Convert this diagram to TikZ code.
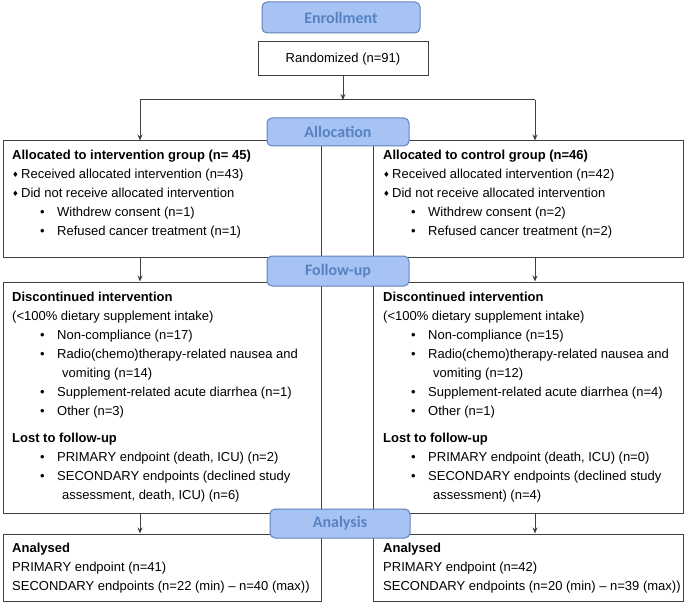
\documentclass[tikz,border=0pt]{standalone}
\usepackage{fontspec}
\setmainfont{Liberation Sans}
\newfontfamily\stagefont{Carlito}
\newfontfamily\diamfont{DejaVu Sans}
\usetikzlibrary{arrows.meta}

\definecolor{stageFill}{HTML}{A6C3F4}
\definecolor{stageLine}{HTML}{6282B8}
\definecolor{stageText}{HTML}{5682C2}
\definecolor{boxLine}{HTML}{404040}

\newcommand{\diamitem}{\makebox[9pt][l]{\raisebox{1.2pt}{\diamfont\fontsize{7.5}{7.5}\selectfont ♦}}}
\newcommand{\dotitem}{\hspace*{28pt}\makebox[17pt][l]{\textbullet}}
\newcommand{\contitem}{\hspace*{50pt}}

\begin{document}
\begin{tikzpicture}
[x=1pt,y=-1pt,
  boxDecorate/.style={shape=rectangle,draw=boxLine,line width=1pt,fill=white,inner sep=0pt},
  stageDecorate/.style={shape=rectangle,rounded corners=5pt,draw=stageLine,line width=1pt,
    fill=stageFill,text=stageText,font=\stagefont\bfseries\fontsize{16}{16}\selectfont},
  textDecorate/.style={anchor=north west,align=left,inner sep=0pt,
    font=\fontsize{13}{19}\selectfont},
  lineDecorate/.style={-,draw=boxLine,line width=1pt},
  arrowDecorate/.style={-{Stealth[length=6pt,width=5pt]},draw=boxLine,line width=1pt}]
\useasboundingbox (0,0) rectangle (685,604);
%% boxes
\node (random) at (343,59) [boxDecorate,minimum width=170pt,minimum height=34pt,
  font=\fontsize{13}{13}\selectfont] {Randomized (n=91)};
\foreach \boxname/\x/\y/\w/\h in {
  allocL/162/199/318/116,
  allocR/528/199/310/116,
  followL/162/397.5/318/231,
  followR/528/397.5/310/231,
  analysisL/162/567.5/318/67,
  analysisR/528/567.5/310/67}
{
  \node (\boxname) at (\x,\y) [boxDecorate,minimum width=\w pt,minimum height=\h pt] {};
}
%% texts
\node (allocLtext) at (12,150) [textDecorate] {\textbf{Allocated to intervention group (n= 45)}\\
  \diamitem Received allocated intervention (n=43)\\
  \diamitem Did not receive allocated intervention\\
  \dotitem Withdrew consent (n=1)\\
  \dotitem Refused cancer treatment (n=1)};
\node (allocRtext) at (383,150) [textDecorate] {\textbf{Allocated to control group (n=46)}\\
  \diamitem Received allocated intervention (n=42)\\
  \diamitem Did not receive allocated intervention\\
  \dotitem Withdrew consent (n=2)\\
  \dotitem Refused cancer treatment (n=2)};
\node (followLtext) at (12,292) [textDecorate] {\textbf{Discontinued intervention}\\
  (<100\% dietary supplement intake)\\
  \dotitem Non-compliance (n=17)\\
  \dotitem Radio(chemo)therapy-related nausea and\\
  \contitem vomiting (n=14)\\
  \dotitem Supplement-related acute diarrhea (n=1)\\
  \dotitem Other (n=3)\\[8pt]
  \textbf{Lost to follow-up}\\
  \dotitem PRIMARY endpoint (death, ICU) (n=2)\\
  \dotitem SECONDARY endpoints (declined study\\
  \contitem assessment, death, ICU) (n=6)};
\node (followRtext) at (383,292) [textDecorate] {\textbf{Discontinued intervention}\\
  (<100\% dietary supplement intake)\\
  \dotitem Non-compliance (n=15)\\
  \dotitem Radio(chemo)therapy-related nausea and\\
  \contitem vomiting (n=12)\\
  \dotitem Supplement-related acute diarrhea (n=4)\\
  \dotitem Other (n=1)\\[8pt]
  \textbf{Lost to follow-up}\\
  \dotitem PRIMARY endpoint (death, ICU) (n=0)\\
  \dotitem SECONDARY endpoints (declined study\\
  \contitem assessment) (n=4)};
\node (analysisLtext) at (12,543) [textDecorate] {\textbf{Analysed}\\
  PRIMARY endpoint (n=41)\\
  SECONDARY endpoints (n=22 (min) -- n=40 (max))};
\node (analysisRtext) at (383,543) [textDecorate] {\textbf{Analysed}\\
  PRIMARY endpoint (n=42)\\
  SECONDARY endpoints (n=20 (min) -- n=39 (max))};
%% connectors
\coordinate (splitL) at (140,100);
\coordinate (splitR) at (535,100);
\draw[arrowDecorate] (random) -- (random |- splitL);
\draw[lineDecorate] (splitL) -- (splitR);
\draw[arrowDecorate] (splitL) -- (allocL.north -| splitL);
\draw[arrowDecorate] (splitR) -- (allocR.north -| splitR);
\draw[arrowDecorate] (allocL.south -| splitL) -- (followL.north -| splitL);
\draw[arrowDecorate] (allocR.south -| splitR) -- (followR.north -| splitR);
\draw[arrowDecorate] (followL.south -| splitL) -- (analysisL.north -| splitL);
\draw[arrowDecorate] (followR.south -| splitR) -- (analysisR.north -| splitR);
%% stages
\foreach \stagename/\x/\y/\w/\h/\label in {
  enroll/341/17.5/158/31/Enrollment,
  alloc/338/132/142/28/Allocation,
  follow/338/271/142/30/Follow-up,
  analysis/340/523.5/140/29/Analysis}
{
  \node (\stagename) at (\x,\y) [stageDecorate,minimum width=\w pt,minimum height=\h pt] {\label};
}
\end{tikzpicture}
\end{document}
